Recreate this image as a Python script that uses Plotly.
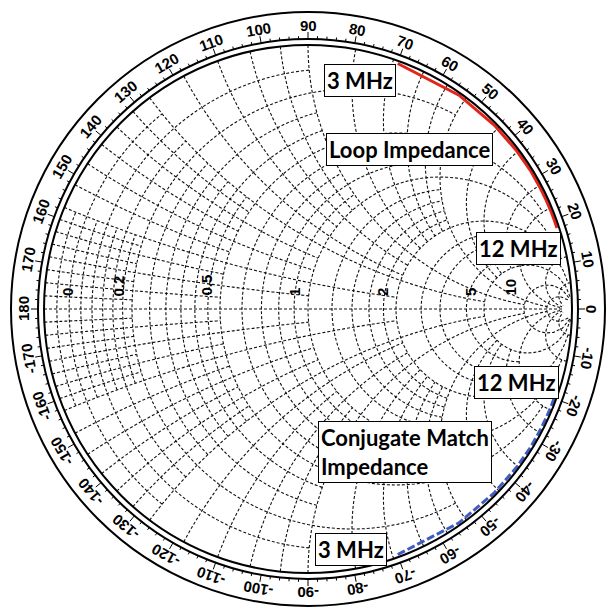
import math
import plotly.graph_objects as go

# Loop impedance, normalised to 50 ohm, swept from 3 MHz to 12 MHz
freq_mhz = [3, 4, 5, 6, 7, 8, 9, 10, 11, 12]
loop_r = [0.015, 0.02, 0.03, 0.04, 0.05, 0.07, 0.09, 0.11, 0.14, 0.17]
loop_x = [1.43, 1.93, 2.44, 2.97, 3.50, 4.05, 4.60, 5.15, 5.72, 6.30]
# conjugate match impedance (r - jx)
match_r = [0.015, 0.02, 0.03, 0.04, 0.05, 0.07, 0.09, 0.11, 0.14, 0.17]
match_x = [-1.43, -1.93, -2.44, -2.97, -3.50, -4.05, -4.60, -5.15, -5.72, -6.30]

# chart grid: (value, extent) -- constant-r circles run to |x| <= extent,
# constant-x arcs run to r <= extent
r_lines = [(0.025, 0.2), (0.05, 0.5), (0.075, 0.2), (0.1, 1), (0.125, 0.2),
           (0.15, 0.5), (0.175, 0.2), (0.2, 2), (0.25, 0.5), (0.3, 1),
           (0.35, 0.5), (0.4, 1), (0.45, 0.5), (0.5, 5), (0.6, 2), (0.7, 1),
           (0.8, 2), (0.9, 1), (1.0, 10), (1.2, 2), (1.4, 2), (1.6, 2),
           (1.8, 2), (2, 20), (2.5, 5), (3, 5), (4, 5), (5, 50), (10, 50),
           (20, 50)]
x_lines = [(0.025, 0.2), (0.05, 0.5), (0.075, 0.2), (0.1, 1), (0.125, 0.2),
           (0.15, 0.5), (0.175, 0.2), (0.2, 2), (0.25, 0.5), (0.3, 1),
           (0.35, 0.5), (0.4, 1), (0.45, 0.5), (0.5, 5), (0.6, 2), (0.7, 1),
           (0.8, 2), (0.9, 1), (1.0, 10), (1.2, 2), (1.4, 2), (1.6, 2),
           (1.8, 2), (2, 20), (2.5, 5), (3, 5), (4, 5), (5, 50), (10, 50),
           (20, 50)]
r_labels = ["0", "0.2", "0.5", "1", "2", "5", "10"]
angle_labels = list(range(-170, 190, 10))

W, H = 612, 616
CX, CY = 308, 309          # chart centre, px
R_CHART = 264              # unit circle radius, px
R_RING = 270               # angle scale base circle
R_OUTER = 297              # outer rim
R_TEXT = 284               # angle label radius
N_SEG = 120


def px(x):
    return x / W


def py(y):
    return 1 - y / H


# grid polyline through the Smith projection of the subplot
grid_re, grid_im = [], []
for val, lim in r_lines:
    t_max = math.atan(lim)
    for i in range(N_SEG + 1):
        t = -t_max + 2 * t_max * i / N_SEG
        grid_re.append(val)
        grid_im.append(math.tan(t))
    grid_re.append(None)
    grid_im.append(None)
for val, lim in x_lines + [(0.0, 60)]:
    t_max = math.atan(lim)
    for sign in ([1, -1] if val else [1]):
        for i in range(N_SEG + 1):
            t = t_max * i / N_SEG
            grid_re.append(math.tan(t))
            grid_im.append(sign * val)
        grid_re.append(None)
        grid_im.append(None)

fig = go.Figure()
fig.add_trace(go.Scattersmith(
    real=grid_re, imag=grid_im, mode="lines", connectgaps=False,
    line=dict(color="#111111", width=1.1, dash="3px,2px"),
    hoverinfo="skip", name="grid",
))
fig.add_trace(go.Scattersmith(
    real=loop_r, imag=loop_x, mode="lines",
    line=dict(color="#e3241b", width=3), name="Loop Impedance",
    text=[f"{f} MHz" for f in freq_mhz],
))
fig.add_trace(go.Scattersmith(
    real=match_r, imag=match_x, mode="lines",
    line=dict(color="#3f5cc4", width=3, dash="8px,3px"),
    name="Conjugate Match Impedance",
    text=[f"{f} MHz" for f in freq_mhz],
))

domain = dict(x=[px(CX - R_CHART), px(CX + R_CHART)],
              y=[py(CY + R_CHART), py(CY - R_CHART)])

fig.update_layout(
    width=W, height=H, margin=dict(l=0, r=0, t=0, b=0),
    paper_bgcolor="white", showlegend=False,
    smith=dict(
        domain=domain, bgcolor="white",
        realaxis=dict(showgrid=False, showticklabels=False, ticks="",
                      showline=False),
        imaginaryaxis=dict(showgrid=False, showticklabels=False, ticks="",
                           showline=True, linecolor="black", linewidth=2),
    ),
)

shapes = []
for rad, w in [(R_RING, 2), (R_OUTER, 2)]:
    shapes.append(dict(type="circle", xref="paper", yref="paper",
                       x0=px(CX - rad), x1=px(CX + rad),
                       y0=py(CY + rad), y1=py(CY - rad),
                       line=dict(color="black", width=w)))
for a in range(-180, 180, 2):
    ln = 7 if a % 10 == 0 else 3
    t = math.radians(a)
    shapes.append(dict(type="line", xref="paper", yref="paper",
                       x0=px(CX + R_RING * math.cos(t)), y0=py(CY - R_RING * math.sin(t)),
                       x1=px(CX + (R_RING + ln) * math.cos(t)),
                       y1=py(CY - (R_RING + ln) * math.sin(t)),
                       line=dict(color="black", width=1)))
fig.update_layout(shapes=shapes)

annotations = []
# phase angle scale around the rim
for a in angle_labels:
    t = math.radians(a)
    annotations.append(dict(
        x=px(CX + R_TEXT * math.cos(t)), y=py(CY - R_TEXT * math.sin(t)),
        xref="paper", yref="paper", text=str(a), showarrow=False,
        textangle=90 - a, xanchor="center", yanchor="middle",
        font=dict(family="Liberation Sans", size=15, color="black", weight="bold"),
    ))

# resistance values, written just left of their circle on the real axis
for lab in r_labels:
    v = float(lab)
    gx = CX + R_CHART * (v - 1) / (v + 1)
    lx = gx - 14 if v > 0 else gx + 23
    annotations.append(dict(
        x=px(lx), y=py(CY - 11), xref="paper", yref="paper", text=lab,
        showarrow=False, textangle=-90, xanchor="center", yanchor="bottom",
        font=dict(family="Liberation Sans", size=15, color="black", weight="bold"),
    ))

box_font = dict(family="Lato", size=22, color="black", weight="bold")
boxes = [
    ("3 MHz", 360, 80),
    ("Loop Impedance", 410, 149),
    ("12 MHz", 518, 248),
    ("12 MHz", 516, 382),
    ("Conjugate Match<br>Impedance", 405, 452),
    ("3 MHz", 351, 549),
]
for text, bx, by in boxes:
    annotations.append(dict(
        x=px(bx), y=py(by), xref="paper", yref="paper", text=text,
        showarrow=False, align="left", xanchor="center", yanchor="middle",
        font=box_font, bgcolor="white", bordercolor="black", borderwidth=1,
        borderpad=2,
    ))
fig.update_layout(annotations=annotations)

fig.write_html("out.html")
